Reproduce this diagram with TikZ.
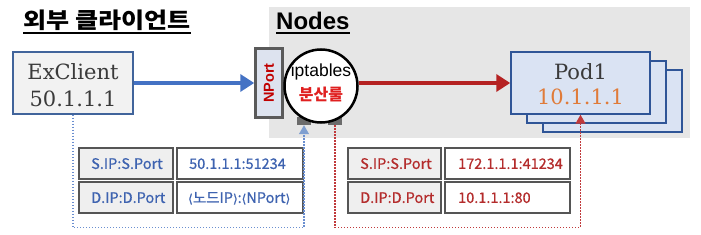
\documentclass[tikz,border=0pt]{standalone}
\usepackage{fontspec}
\setmainfont{Liberation Sans}
\newfontfamily\kr{Noto Sans CJK KR}
\newfontfamily\krwide{Noto Sans CJK KR}[FakeStretch=1.14]
\newfontfamily\celf{Noto Sans CJK KR}[FakeBold=0.7]
\newfontfamily\dvsans{DejaVu Sans}[FakeBold=0.7]
\newfontfamily\dvserif{DejaVu Serif}
\usetikzlibrary{arrows.meta,calc}
\newcommand\myfs[1]{\fontsize{#1}{#1}\selectfont}
\definecolor{bggray}{HTML}{E6E6E6}
\definecolor{exfill}{HTML}{F2F2F2}
\definecolor{exborder}{HTML}{41649B}
\definecolor{npfill}{HTML}{DDE3EF}
\definecolor{npborder}{HTML}{5A5A5A}
\definecolor{npred}{HTML}{C00000}
\definecolor{rulered}{HTML}{E02020}
\definecolor{podfill}{HTML}{DAE3F3}
\definecolor{podborder}{HTML}{2F5597}
\definecolor{podorange}{HTML}{E07B39}
\definecolor{arrblue}{HTML}{4472C4}
\definecolor{arrred}{HTML}{B52222}
\definecolor{dotblue}{HTML}{6B8FD0}
\definecolor{tipblue}{HTML}{7F9FD0}
\definecolor{dotred}{HTML}{C0393B}
\definecolor{txtblue}{HTML}{3E63B0}
\definecolor{txtred}{HTML}{B42C2C}
\definecolor{cellgray}{HTML}{EFEFEF}
\definecolor{cellborder}{HTML}{555555}
\definecolor{sqgray}{HTML}{6B6B6B}
\definecolor{darktxt}{HTML}{3A3A3A}
\begin{document}
\begin{tikzpicture}[x=1pt,y=-1pt,
  podbox/.style={draw=podborder, fill=podfill, line width=1.5pt, minimum width=139pt, minimum height=62pt, inner sep=0pt},
  lcell/.style={draw=cellborder, fill=cellgray, line width=1.8pt, minimum width=94pt, minimum height=31pt, anchor=north west, inner sep=0pt},
  rcell/.style={draw=cellborder, fill=white, line width=1.8pt, minimum width=126pt, minimum height=31pt, anchor=north west, inner sep=0pt},
  celltxt/.style={anchor=base west, inner sep=0pt, font=\celf\myfs{14.5}},
  sqbox/.style={fill=sqgray, minimum width=14pt, minimum height=8pt, inner sep=0pt},
  dotline/.style={line width=1.2pt, dash pattern=on 1.4pt off 1.6pt},
  bigtxt/.style={anchor=base, inner sep=0pt, font=\dvserif\myfs{21}}
]
\useasboundingbox (0,0) rectangle (701,235);
% background of Nodes
\fill[bggray] (269,7) rectangle (690,138);

% titles
\node[anchor=base west, inner sep=0pt, font=\krwide\bfseries\myfs{22}] (t1) at (23,29) {외부 클라이언트};
\draw[line width=2pt] ($(t1.base west)+(0,4)$) -- ($(t1.base east)+(0,4)$);
\node[anchor=base west, inner sep=0pt, font=\bfseries\myfs{24}] (t2) at (276,30) {Nodes};
\draw[line width=2pt] ($(t2.base west)+(0,3)$) -- ($(t2.base east)+(0,3)$);

% ExClient
\node[draw=exborder, fill=exfill, line width=1.5pt, minimum width=120pt, minimum height=62pt, inner sep=0pt] (ex) at (73,83) {};
\node[bigtxt, text=darktxt] (exn) at (73,80) {ExClient};
\node[bigtxt, text=darktxt] (exip) at (73,107) {50.1.1.1};

% NPort
\node[draw=npborder, fill=npfill, line width=2.5pt, minimum width=27pt, minimum height=69pt, inner sep=0pt] (np) at (269,83) {};
\node[rotate=90, text=npred, font=\bfseries\myfs{14.5}, inner sep=0pt] (npt) at (np.center) {NPort};

% small squares
\node[sqbox] (sq1) at (304,121) {};
\node[sqbox] (sq2) at (335,121) {};

% iptables circle
\node[circle, draw=black, fill=white, line width=2.5pt, minimum size=73pt, inner sep=0pt] (ip) at (321,86) {};
\node[inner sep=0pt, font=\myfs{17.5}] (ipt) at (321,72) {iptables};
\node[inner sep=0pt, text=rulered, font=\kr\bfseries\myfs{16}] (ipr) at (321,94) {분산룰};

% pods
\node[podbox] (p3) at (612.5,101) {};
\node[podbox] (p2) at (596.5,92) {};
\node[podbox] (p1) at (580.5,83) {};
\node[bigtxt, text=darktxt] (pn) at (580.5,80) {Pod1};
\node[bigtxt, text=podorange] (pip) at (580.5,105) {10.1.1.1};

% main arrows
\draw[arrblue, line width=4pt, -{Triangle[length=14pt,width=17pt]}] (ex.east) -- (np.west);
\draw[arrred, line width=4pt, -{Triangle[length=14pt,width=17pt]}] (ip.east |- p1.west) -- (p1.west);

% blue table
\node[lcell] (bl1) at (78,147) {};
\node[rcell] (br1) at (176,147) {};
\node[lcell] (bl2) at (78,181) {};
\node[rcell] (br2) at (176,181) {};
\node[celltxt, text=txtblue] at ($(bl1.west)+(13,5.5)$) {S.IP:S.Port};
\node[celltxt, text=txtblue] at ($(br1.west)+(13,5.5)$) {50.1.1.1:51234};
\node[celltxt, text=txtblue] at ($(bl2.west)+(13,5.5)$) {D.IP:D.Port};
\node[celltxt, text=txtblue] at ($(br2.west)+(12,5.5)$) {{\dvsans\myfs{12}⟨}노드IP{\dvsans\myfs{12}⟩}:{\dvsans\myfs{12}⟨}NPort{\dvsans\myfs{12}⟩}};

% red table
\node[lcell, minimum width=93pt] (rl1) at (347,147) {};
\node[rcell, minimum width=125pt] (rr1) at (444,147) {};
\node[lcell, minimum width=93pt] (rl2) at (347,181) {};
\node[rcell, minimum width=125pt] (rr2) at (444,181) {};
\node[celltxt, text=txtred] at ($(rl1.west)+(13,5.5)$) {S.IP:S.Port};
\node[celltxt, text=txtred] at ($(rr1.west)+(14,5.5)$) {172.1.1.1:41234};
\node[celltxt, text=txtred] at ($(rl2.west)+(13,5.5)$) {D.IP:D.Port};
\node[celltxt, text=txtred] at ($(rr2.west)+(14,5.5)$) {10.1.1.1:80};

% dotted connectors
\draw[dotline, dotblue, -{Triangle[length=9pt,width=10pt,color=tipblue]}] (ex.south) -- ++(0,113) -| (sq1.south);
\draw[dotline, dotred, -{Triangle[length=9pt,width=10pt,color=dotred]}] (sq2.south) -- ++(0,102) -| (p1.south);
\end{tikzpicture}
\end{document}
